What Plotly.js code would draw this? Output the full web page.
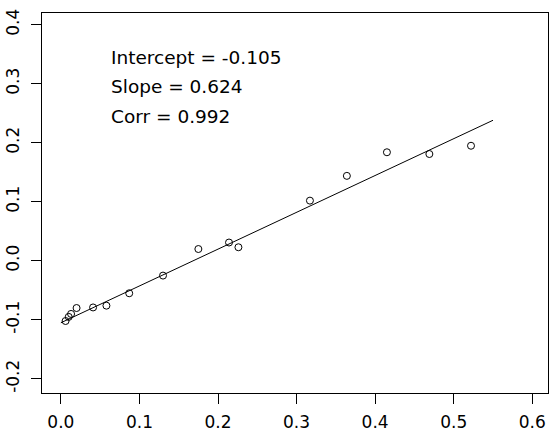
<!DOCTYPE html>
<html>
<head>
<meta charset="utf-8">
<script src="https://cdn.plot.ly/plotly-3.0.1.min.js"></script>
<style>html,body{margin:0;padding:0;background:#fff;}#chart{width:553px;height:433px;}</style>
</head>
<body>
<div id="chart"></div>
<script>
// Data
const xValues = [0.006, 0.010, 0.013, 0.020, 0.041, 0.058, 0.087, 0.130, 0.175, 0.214, 0.226, 0.317, 0.364, 0.415, 0.469, 0.522];
const yValues = [-0.102, -0.095, -0.090, -0.080, -0.079, -0.076, -0.055, -0.025, 0.020, 0.031, 0.023, 0.102, 0.144, 0.184, 0.181, 0.195];
const intercept = -0.105;
const slope = 0.624;
const corr = 0.992;
const lineX = [0, 0.55];
const lineY = lineX.map(x => intercept + slope * x);
const xTicks = [0, 0.1, 0.2, 0.3, 0.4, 0.5, 0.6];
const xTickText = ["0.0", "0.1", "0.2", "0.3", "0.4", "0.5", "0.6"];
const yTicks = [-0.2, -0.1, 0, 0.1, 0.2, 0.3, 0.4];
const yTickText = ["-0.2", "-0.1", "0.0", "0.1", "0.2", "0.3", "0.4"];
const statLabels = ["Intercept = " + intercept.toFixed(3), "Slope = " + slope.toFixed(3), "Corr = " + corr.toFixed(3)];

const font = "DejaVu Sans, Arial, sans-serif";

const traces = [
  {x: lineX, y: lineY, mode: "lines", line: {color: "#000", width: 1}, hoverinfo: "skip"},
  {x: xValues, y: yValues, mode: "markers", marker: {symbol: "circle-open", size: 7, color: "#000", line: {width: 1, color: "#000"}}}
];

const annYPix = [57, 87, 116];
const annotations = statLabels.map((t, i) => ({
  text: t, xref: "paper", yref: "paper", x: (109 - 42) / 506, y: 1 - (annYPix[i] - 13) / 380,
  xanchor: "left", yanchor: "middle", showarrow: false,
  font: {family: font, size: 18.5, color: "#000"}
}));

const layout = {
  width: 553, height: 433,
  margin: {l: 42, r: 5, t: 13, b: 40},
  paper_bgcolor: "#fff", plot_bgcolor: "#fff",
  showlegend: false,
  xaxis: {
    range: [-0.024, 0.620], tickvals: xTicks, ticktext: xTickText,
    showgrid: false, zeroline: false, showline: true, mirror: true, linecolor: "#000", linewidth: 1,
    ticks: "outside", ticklen: 10, tickcolor: "#000", tickwidth: 1,
    ticklabelstandoff: 4,
    tickfont: {family: font, size: 17, color: "#000"}
  },
  yaxis: {
    range: [-0.224, 0.420], tickvals: yTicks, ticktext: yTickText, tickangle: -90,
    showgrid: false, zeroline: false, showline: true, mirror: true, linecolor: "#000", linewidth: 1,
    ticks: "outside", ticklen: 10, tickcolor: "#000", tickwidth: 1,
    ticklabelstandoff: 5,
    tickfont: {family: font, size: 17, color: "#000"}
  },
  annotations: annotations
};

Plotly.newPlot("chart", traces, layout, {staticPlot: true, displayModeBar: false});
</script>
</body>
</html>
